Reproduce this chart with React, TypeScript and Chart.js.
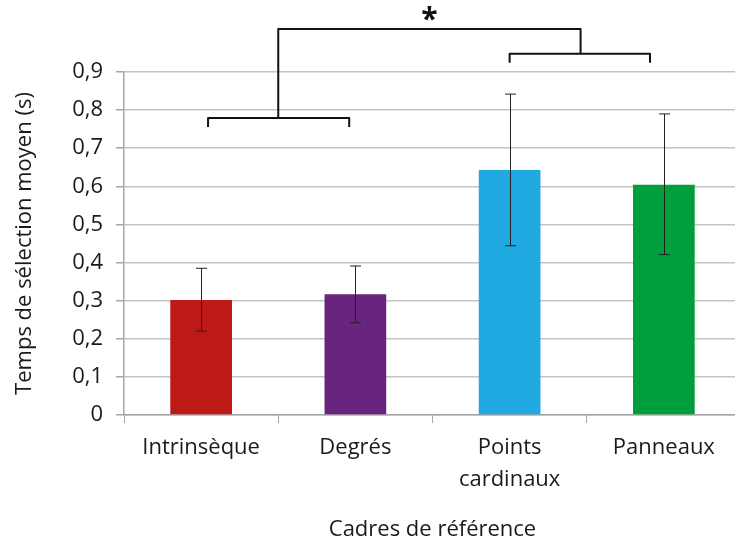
import React, { useEffect, useRef } from "react";
import { Chart, registerables } from "chart.js";

Chart.register(...registerables);

const categories: (string | string[])[] = ["Intrinsèque", "Degrés", ["Points", "cardinaux"], "Panneaux"];
const meanValues = [0.302, 0.317, 0.643, 0.604];
const errorUpper = [0.385, 0.391, 0.842, 0.790];
const errorLower = [0.220, 0.242, 0.444, 0.421];
const barColors = ["#BC1917", "#692480", "#21A9E1", "#009F3B"];
const yTicks = [0, 0.1, 0.2, 0.3, 0.4, 0.5, 0.6, 0.7, 0.8, 0.9];
const yAxisTitle = "Temps de sélection moyen (s)";
const xAxisTitle = "Cadres de référence";
const significance = "*";

const FONT = "'Open Sans', 'Noto Sans', sans-serif";

const annotationPlugin = {
  id: "errAndBrackets",
  afterDatasetsDraw(chart: any) {
    const ctx = chart.ctx;
    const x = chart.scales.x;
    const y = chart.scales.y;
    ctx.save();
    // error bars
    ctx.strokeStyle = "#222";
    ctx.lineWidth = 1;
    meanValues.forEach((_, i) => {
      const cx = Math.round(x.getPixelForValue(i)) + 0.5;
      const yt = y.getPixelForValue(errorUpper[i]);
      const yb = y.getPixelForValue(errorLower[i]);
      ctx.beginPath();
      ctx.moveTo(cx, yt);
      ctx.lineTo(cx, yb);
      ctx.moveTo(cx - 5.5, yt);
      ctx.lineTo(cx + 5.5, yt);
      ctx.moveTo(cx - 5.5, yb);
      ctx.lineTo(cx + 5.5, yb);
      ctx.stroke();
    });
    // brackets
    const px = (v: number) => x.getPixelForValue(v);
    const py = (v: number) => y.getPixelForValue(v);
    ctx.strokeStyle = "#111";
    ctx.lineWidth = 2;
    ctx.lineJoin = "round";
    const bracket = (x1: number, x2: number, yv: number, drop: number) => {
      ctx.beginPath();
      ctx.moveTo(px(x1), py(yv) + drop);
      ctx.lineTo(px(x1), py(yv));
      ctx.lineTo(px(x2), py(yv));
      ctx.lineTo(px(x2), py(yv) + drop);
      ctx.stroke();
    };
    bracket(0.045, 0.96, 0.779, 9);
    bracket(2.0, 2.91, 0.948, 9);
    ctx.beginPath();
    ctx.moveTo(px(0.5), py(0.779));
    ctx.lineTo(px(0.5), py(1.013));
    ctx.lineTo(px(2.46), py(1.013));
    ctx.lineTo(px(2.46), py(0.948));
    ctx.stroke();
    ctx.fillStyle = "#111";
    ctx.font = `bold 30px ${FONT}`;
    ctx.textAlign = "center";
    ctx.textBaseline = "middle";
    ctx.fillText(significance, px(1.48), py(1.045) + 4);
    ctx.restore();
  },
};

export default function App() {
  const ref = useRef<HTMLCanvasElement>(null);
  useEffect(() => {
    if (!ref.current) return;
    const chart = new Chart(ref.current, {
      type: "bar",
      data: {
        labels: categories,
        datasets: [
          {
            data: meanValues,
            backgroundColor: barColors,
            borderWidth: 0,
            barPercentage: 0.4,
            categoryPercentage: 1,
          },
        ],
      },
      options: {
        animation: false,
        responsive: false,
        layout: { padding: { top: 72, right: 4, left: 0, bottom: 0 } },
        plugins: { legend: { display: false }, tooltip: { enabled: false } },
        scales: {
          x: {
            grid: {
              display: true,
              drawOnChartArea: false,
              drawTicks: true,
              tickLength: 8,
              color: "#a6a6a6",
              lineWidth: 1,
              offset: true,
            },
            border: { color: "#a6a6a6", width: 1.5 },
            ticks: {
              color: "#1a1a1a",
              font: { family: FONT, size: 22, lineHeight: 1.45 },
              padding: 9,
              maxRotation: 0,
              autoSkip: false,
            },
            title: {
              display: true,
              text: xAxisTitle,
              color: "#1a1a1a",
              font: { family: FONT, size: 22 },
              padding: { top: 0, bottom: 1 },
            },
            afterFit: (s: any) => {
              s.height = 129;
            },
          },
          y: {
            min: 0,
            max: 0.9,
            afterBuildTicks: (s: any) => {
              s.ticks = yTicks.map((v) => ({ value: v }));
            },
            grid: {
              color: "#c4c4c4",
              lineWidth: 1.5,
              drawTicks: true,
              tickLength: 8,
              tickColor: "#a6a6a6",
            },
            border: { color: "#a6a6a6", width: 1.5 },
            ticks: {
              color: "#1a1a1a",
              font: { family: FONT, size: 22 },
              padding: 13,
              callback: (v: any) => (v === 0 ? "0" : Number(v).toFixed(1).replace(".", ",")),
            },
            title: {
              display: true,
              text: yAxisTitle,
              color: "#1a1a1a",
              font: { family: FONT, size: 22 },
              padding: { top: 12, bottom: 0 },
            },
            afterFit: (s: any) => {
              s.width = 124;
            },
          },
        },
      },
      plugins: [annotationPlugin],
    });
    return () => chart.destroy();
  }, []);
  return (
    <div style={{ position: "fixed", left: 0, top: 0, width: 735, height: 544, overflow: "hidden", background: "#fff" }}>
      <canvas ref={ref} width={745} height={544} style={{ display: "block" }} />
    </div>
  );
}
